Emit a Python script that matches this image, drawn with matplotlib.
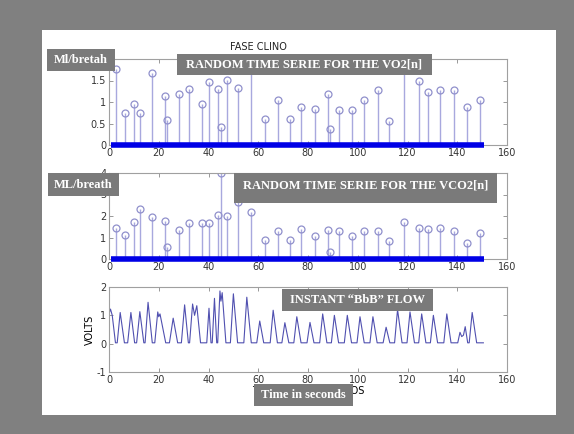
import numpy as np
import matplotlib.pyplot as plt
from matplotlib.patches import Rectangle

W, H = 574, 434

# breath times (s) and breath-by-breath values
breath_t = [2.7, 6.4, 10.0, 12.5, 17.2, 22.5, 23.2, 28.1, 32.3, 37.5, 40.1, 43.9,
            45.0, 47.3, 52.0, 57.1, 62.7, 67.8, 72.8, 77.2, 82.8, 88.2, 88.8, 92.6,
            97.8, 102.5, 108.0, 112.6, 118.7, 124.7, 128.1, 133.1, 138.7, 144.0, 149.0]
vo2 = [1.77, 0.74, 0.96, 0.75, 1.67, 1.14, 0.57, 1.18, 1.31, 0.96, 1.46, 1.31,
       0.41, 1.52, 1.32, 2.4, 0.61, 1.05, 0.60, 0.89, 0.84, 1.19, 0.37, 0.82,
       0.82, 1.05, 1.28, 0.56, 2.4, 1.48, 1.23, 1.29, 1.27, 0.89, 1.05]
vco2 = [1.43, 1.12, 1.70, 2.34, 1.95, 1.79, 0.56, 1.36, 1.67, 1.67, 1.67, 2.06,
        4.0, 2.01, 2.65, 2.18, 0.89, 1.28, 0.89, 1.40, 1.09, 1.36, 0.31, 1.32,
        1.07, 1.28, 1.32, 0.86, 1.71, 1.46, 1.40, 1.43, 1.31, 0.73, 1.20]
rec_start, rec_end = 0.8, 150.8

# flow signal vertices (s, volts)
flow_t = [0.0, 0.6, 1.3, 2.6,
          3.3, 4.5, 6.2,
          7.5, 8.8, 10.3,
          11.1, 12.4, 14.0,
          14.5, 15.7, 17.4,
          18.4, 19.6, 20.0, 20.5, 22.8,
          24.3, 25.8, 27.6,
          29.1, 30.4, 31.9,
          32.4, 33.6, 34.4, 35.3, 36.8,
          39.3, 40.2, 41.0,
          41.5, 42.4, 43.3,
          43.7, 44.6, 45.0, 45.5, 47.0,
          48.8, 50.0, 51.7,
          54.2, 55.4, 57.2,
          59.4, 60.6, 62.2,
          64.8, 66.0, 67.7,
          69.5, 70.7, 72.3,
          74.3, 75.5, 77.2,
          79.6, 80.8, 82.4,
          84.7, 85.9, 87.6,
          89.4, 90.6, 92.3,
          94.6, 95.8, 97.5,
          99.7, 100.9, 102.6,
          104.9, 106.1, 107.8,
          110.2, 111.4, 112.9,
          114.8, 116.0, 117.8,
          119.8, 121.0, 122.8,
          124.5, 125.7, 127.4,
          129.2, 130.4, 132.1,
          134.6, 135.8, 137.5,
          140.2, 141.1, 141.8, 142.5, 143.2, 144.2,
          144.8, 146.0, 147.8, 150.5]
flow_v = [1.05, 1.22, 1.0, 0.03,
          0.03, 1.10, 0.03,
          0.03, 1.10, 0.03,
          0.03, 1.13, 0.03,
          0.03, 1.46, 0.03,
          0.03, 1.12, 0.95, 1.05, 0.03,
          0.03, 0.90, 0.03,
          0.03, 1.37, 0.03,
          0.03, 1.40, 1.0, 1.34, 0.03,
          0.03, 1.25, 0.03,
          0.03, 1.60, 0.03,
          0.03, 1.86, 1.5, 1.80, 0.03,
          0.03, 1.76, 0.03,
          0.03, 1.64, 0.03,
          0.03, 0.80, 0.03,
          0.03, 1.18, 0.03,
          0.03, 0.74, 0.03,
          0.03, 0.95, 0.03,
          0.03, 0.75, 0.03,
          0.03, 1.05, 0.03,
          0.03, 1.00, 0.03,
          0.03, 1.00, 0.03,
          0.03, 0.95, 0.03,
          0.03, 0.95, 0.03,
          0.03, 0.58, 0.03,
          0.03, 1.20, 0.03,
          0.03, 1.12, 0.03,
          0.03, 1.05, 0.03,
          0.03, 1.00, 0.03,
          0.03, 1.05, 0.03,
          0.03, 0.40, 0.25, 0.30, 0.60, 0.03,
          0.03, 1.10, 0.03, 0.03]

xticks = np.arange(0, 161, 20)
bg_grey = '#808080'
box_grey = '#7a7a7a'


def fx(px):
    return px / W


def fy(py):
    return 1 - py / H


def style_axes(ax, ylim, yticks):
    ax.set_xlim(0, 160)
    ax.set_ylim(*ylim)
    ax.set_xticks(xticks)
    ax.set_yticks(yticks)
    ax.set_yticklabels([f'{v:g}' for v in yticks])
    ax.tick_params(direction='in', top=True, right=True, length=3, width=0.6,
                   color='#888888', labelsize=7, labelcolor='#333333', pad=2)
    for s in ax.spines.values():
        s.set_color('#a0a0a0')
        s.set_linewidth(0.8)


def stems(ax, y):
    ax.vlines(breath_t, 0, y, color='#a8a8de', lw=1.0)
    ax.plot(breath_t, y, 'o', ms=5, mfc='none', mec='#9090cc', mew=0.9)
    ax.hlines(0, rec_start, rec_end, color='#0000e6', lw=4, clip_on=False, zorder=5)


fig = plt.figure(figsize=(W / 100, H / 100), dpi=100)
fig.patch.set_facecolor(bg_grey)
fig.add_artist(Rectangle((fx(42), fy(415)), fx(556 - 42), (415 - 30) / H,
                         transform=fig.transFigure, facecolor='white',
                         edgecolor='none', zorder=-1))

x0, w = fx(109), fx(507 - 109)
ax1 = fig.add_axes([x0, fy(145), w, (145 - 59) / H])
ax2 = fig.add_axes([x0, fy(259), w, (259 - 173) / H])
ax3 = fig.add_axes([x0, fy(372), w, (372 - 287) / H])

stems(ax1, vo2)
style_axes(ax1, (0, 2), [0, 0.5, 1, 1.5, 2])
stems(ax2, vco2)
style_axes(ax2, (0, 4), [0, 1, 2, 3, 4])

ax3.plot(flow_t, flow_v, color='#5050b0', lw=0.8)
style_axes(ax3, (-1, 2), [-1, 0, 1, 2])
ax3.set_ylabel('VOLTS', fontsize=7, labelpad=1)
ax3.set_xlabel('TIEMPO EN SEGUNDOS', fontsize=7, labelpad=1)

fig.text(fx(258), fy(47), 'FASE CLINO', fontsize=7, ha='center', va='center',
         color='#222222')


def label(px0, py0, px1, py1, text, ty=None):
    fig.add_artist(Rectangle((fx(px0), fy(py1)), fx(px1 - px0), (py1 - py0) / H,
                             transform=fig.transFigure, facecolor=box_grey,
                             edgecolor='none', zorder=10))
    if ty is None:
        ty = (py0 + py1) / 2
    fig.text(fx((px0 + px1) / 2), fy(ty), text, ha='center', va='center',
             color='white', fontsize=9, fontweight='bold',
             family='Liberation Serif', zorder=11)


label(47, 49, 115, 71, 'Ml/bretah')
label(177, 54, 432, 75, 'RANDOM TIME SERIE FOR THE VO2[n]')
label(48, 173, 119, 196, 'ML/breath')
label(234, 173, 497, 203, 'RANDOM TIME SERIE FOR THE VCO2[n]', ty=186)
label(282, 289, 433, 311, 'INSTANT \u201cBbB\u201d FLOW')
label(254, 384, 353, 406, 'Time in seconds')

fig.savefig('out.png', dpi=100, facecolor=bg_grey)
